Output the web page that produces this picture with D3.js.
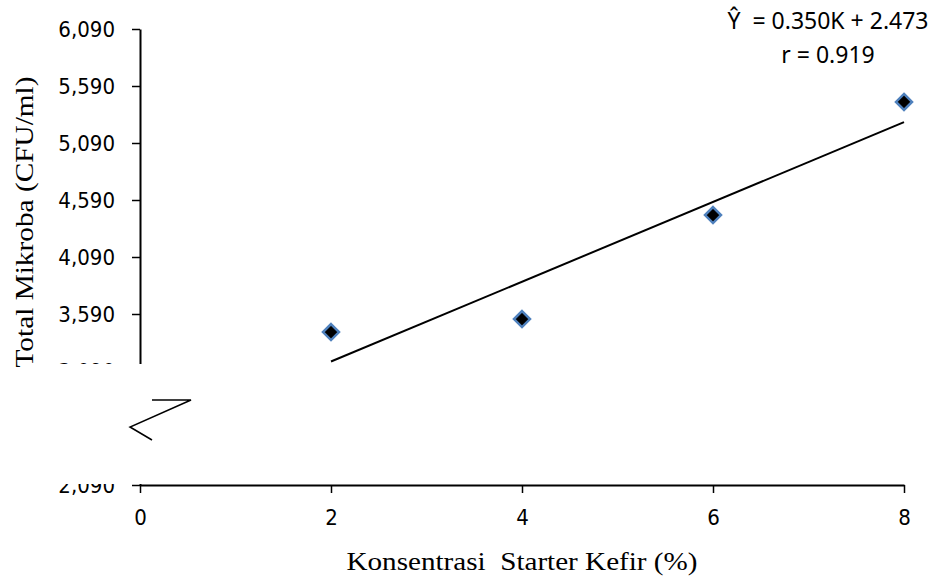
<!DOCTYPE html>
<html>
<head>
<meta charset="utf-8">
<script src="https://cdn.jsdelivr.net/npm/d3@7"></script>
<style>
  body { margin: 0; background: #fff; }
  svg { display: block; }
</style>
</head>
<body>
<script>
// data
var konsentrasi = [2, 4, 6, 8]
var totalMikroba = [3432, 3546, 4458, 5450]
var yTicks = [2090, 2590, 3090, 3590, 4090, 4590, 5090, 5590, 6090]
var xTicks = [0, 2, 4, 6, 8]
var slope = 350, intercept = 2473
var eqLines = ["Ŷ  = 0.350K + 2.473", "r = 0.919"]

var W = 936, H = 578
var tickFont = "DejaVu Sans Condensed, DejaVu Sans, sans-serif"

var svg = d3.select("body").append("svg")
  .attr("width", W).attr("height", H)

var x = d3.scaleLinear().domain([0, 8]).range([140, 904])
var y = d3.scaleLinear().domain([2090, 6090]).range([485, 29])

// axes
var yAxis = svg.append("g")
  .attr("transform", "translate(140,0)")
  .call(d3.axisLeft(y).tickValues(yTicks).tickFormat(d3.format(","))
    .tickSize(8).tickSizeOuter(0).tickPadding(17))
  .attr("font-family", tickFont)
  .attr("font-size", 22)
yAxis.select(".domain").attr("stroke-width", 2)
yAxis.selectAll(".tick line").attr("stroke-width", 1.5)
yAxis.selectAll(".tick text").attr("fill", "#000")

var xAxis = svg.append("g")
  .attr("transform", "translate(0,485)")
  .call(d3.axisBottom(x).tickValues(xTicks)
    .tickSize(8).tickSizeOuter(0).tickPadding(16))
  .attr("font-family", tickFont)
  .attr("font-size", 22)
xAxis.select(".domain").attr("stroke-width", 2)
xAxis.selectAll(".tick line").attr("stroke-width", 1.5)
xAxis.selectAll(".tick text").attr("fill", "#000")

// trend line
svg.append("line")
  .attr("x1", x(2)).attr("y1", y(slope * 2 + intercept))
  .attr("x2", x(8)).attr("y2", y(slope * 8 + intercept))
  .attr("stroke", "#000").attr("stroke-width", 2)

// markers
var r = 8
svg.selectAll(".pt")
  .data(konsentrasi).enter().append("path")
  .attr("class", "pt")
  .attr("d", function(d, i){
    var cx = x(d), cy = y(totalMikroba[i])
    return "M" + cx + "," + (cy - r) + "L" + (cx + r) + "," + cy +
      "L" + cx + "," + (cy + r) + "L" + (cx - r) + "," + cy + "Z"
  })
  .attr("fill", "#000")
  .attr("stroke", "#4f81bd")
  .attr("stroke-width", 2.5)

// white patch for the axis break
svg.append("rect")
  .attr("x", 50).attr("y", 364)
  .attr("width", 93).attr("height", 120)
  .attr("fill", "#fff")

svg.append("polyline")
  .attr("points", "152,400 191,400 130,427 152,440")
  .attr("fill", "none").attr("stroke", "#000").attr("stroke-width", 1.5)

// regression text
svg.selectAll(".eq")
  .data(eqLines).enter().append("text")
  .attr("class", "eq")
  .attr("x", 828)
  .attr("y", function(d, i){ return 29 + i * 34 })
  .attr("text-anchor", "middle")
  .attr("font-family", "Noto Sans, sans-serif")
  .attr("font-size", 23)
  .style("white-space", "pre")
  .text(function(d){ return d })

// axis titles
svg.append("text")
  .attr("transform", "translate(33,222) rotate(-90)")
  .attr("text-anchor", "middle")
  .attr("font-family", "Liberation Serif, serif")
  .attr("font-size", 26)
  .attr("textLength", 291)
  .attr("lengthAdjust", "spacingAndGlyphs")
  .text("Total Mikroba (CFU/ml)")

svg.append("text")
  .attr("x", 522).attr("y", 570)
  .attr("text-anchor", "middle")
  .attr("font-family", "Liberation Serif, serif")
  .attr("font-size", 25)
  .attr("textLength", 351)
  .attr("lengthAdjust", "spacingAndGlyphs")
  .style("white-space", "pre")
  .text("Konsentrasi  Starter Kefir (%)")
</script>
</body>
</html>
